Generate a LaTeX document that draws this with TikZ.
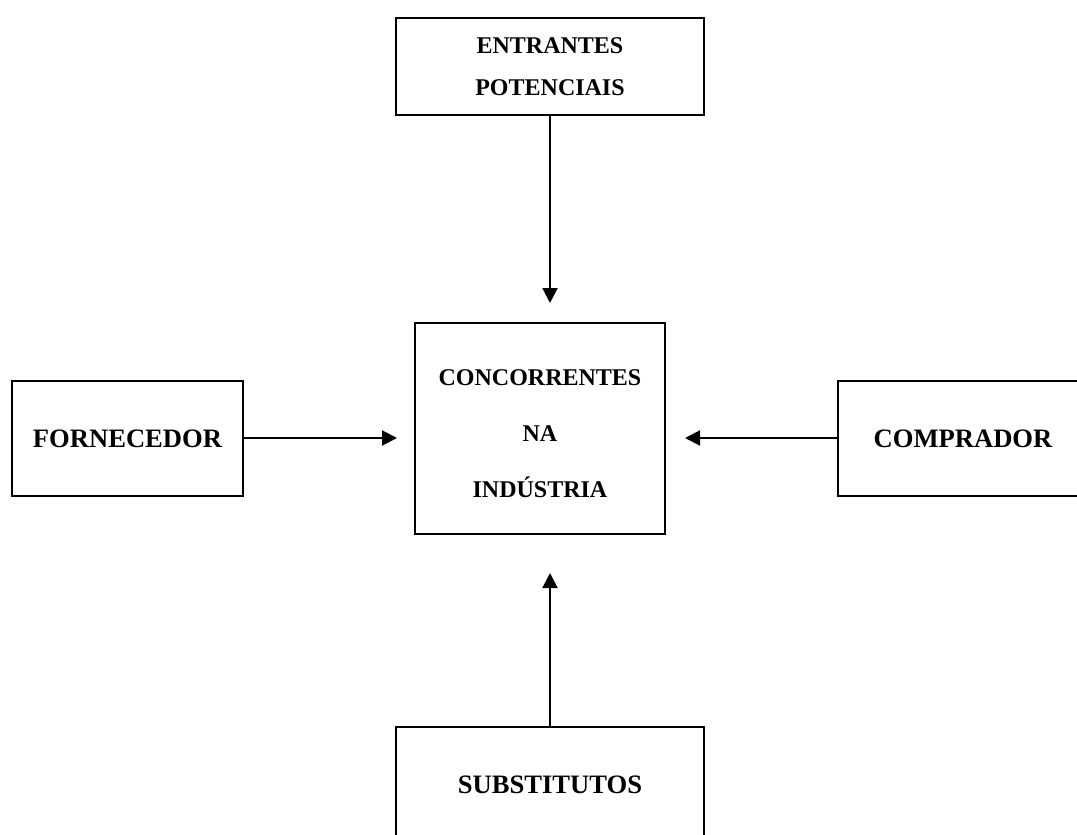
\documentclass[tikz,border=0pt]{standalone}
\usepackage{fontspec}
\setmainfont{Liberation Serif}
\usetikzlibrary{arrows.meta}
\tikzset{
  forcebox/.style={draw=black, line width=2.4pt, fill=white, inner sep=0pt, align=center,
    font=\bfseries\fontsize{24}{42}\selectfont},
  bigtext/.style={font=\bfseries\fontsize{26.6}{32}\selectfont},
  forcearrow/.style={line width=2pt, -{Triangle[length=15pt,width=15pt]}}
}
\begin{document}
\begin{tikzpicture}[x=1pt,y=-1pt]
\useasboundingbox (0,0) rectangle (1077,835);
\clip (0,0) rectangle (1077,835);
\node[forcebox, minimum width=308pt, minimum height=97pt] (top) at (550,66.5) {ENTRANTES\\POTENCIAIS};
\node[forcebox, minimum width=250pt, minimum height=211pt, font=\bfseries\fontsize{24}{56}\selectfont] (mid) at (540,428.5) {\rule{0pt}{27pt}CONCORRENTES\\NA\\INDÚSTRIA};
\node[forcebox, bigtext, minimum width=231pt, minimum height=115pt] (left) at (127.5,438.5) {FORNECEDOR};
\node[forcebox, bigtext, minimum width=250pt, minimum height=115pt] (right) at (963,438.5) {COMPRADOR};
\node[forcebox, bigtext, minimum width=308pt, minimum height=115pt] (bottom) at (550,784.5) {SUBSTITUTOS};
\coordinate (topend) at (550,303);
\coordinate (leftend) at (397,438);
\coordinate (rightend) at (685,438);
\coordinate (bottomend) at (550,573);
\draw[forcearrow] (top.south) -- (topend);
\draw[forcearrow] (left.east |- leftend) -- (leftend);
\draw[forcearrow] (right.west |- rightend) -- (rightend);
\draw[forcearrow] (bottom.north) -- (bottomend);
\end{tikzpicture}
\end{document}
